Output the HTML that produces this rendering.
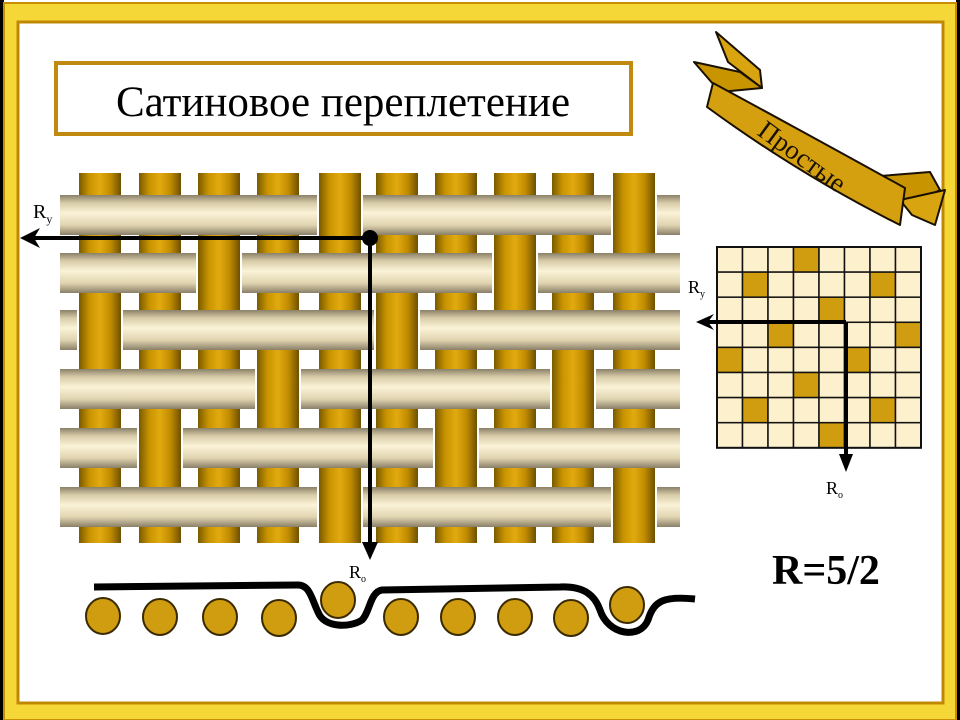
<!DOCTYPE html>
<html><head><meta charset="utf-8"><style>
html,body{margin:0;padding:0;background:#fff;}
svg{display:block;}
</style></head><body>
<svg width="960" height="720" viewBox="0 0 960 720" xmlns="http://www.w3.org/2000/svg">
<defs>
<linearGradient id="warp" x1="0" x2="1" y1="0" y2="0">
<stop offset="0" stop-color="#7a5a00"/><stop offset="0.25" stop-color="#c89400"/><stop offset="0.5" stop-color="#e2aa10"/><stop offset="0.75" stop-color="#c08c00"/><stop offset="1" stop-color="#6e5000"/>
</linearGradient>
<linearGradient id="weft" x1="0" x2="0" y1="0" y2="1">
<stop offset="0" stop-color="#8a8068"/><stop offset="0.2" stop-color="#d8cca8"/><stop offset="0.45" stop-color="#fbf3d8"/><stop offset="0.75" stop-color="#e0d4b0"/><stop offset="1" stop-color="#8a8068"/>
</linearGradient>
</defs>
<rect width="960" height="720" fill="#fff"/>
<rect x="0" y="0" width="4" height="720" fill="#000"/>
<rect x="956" y="0" width="4" height="720" fill="#000"/>
<rect x="4" y="3" width="952" height="717" fill="#f5d838"/>
<rect x="4" y="3" width="952" height="717" fill="none" stroke="#c89000" stroke-width="2"/>
<rect x="18" y="22" width="925" height="681" fill="#fff" stroke="#c08800" stroke-width="3"/>
<rect x="56" y="63" width="575" height="71" fill="#fff" stroke="#c08a10" stroke-width="4"/>
<text x="343" y="116" text-anchor="middle" font-family="Liberation Serif, serif" font-size="43" fill="#000">Сатиновое переплетение</text>
<g id="weave"></g>
<g stroke="#000" stroke-width="4" fill="none">
<line x1="30" y1="238" x2="370" y2="238"/>
<line x1="370" y1="238" x2="370" y2="548"/>
</g>
<polygon points="20,238 40,228 34,238 40,248" fill="#000"/>
<polygon points="370,560 362,542 378,542" fill="#000"/>
<circle cx="370" cy="238" r="8" fill="#000"/>
<text x="33" y="218" font-family="Liberation Serif, serif" font-size="20" fill="#000">R<tspan font-size="12" dy="5">y</tspan></text>
<text x="349" y="578" font-family="Liberation Serif, serif" font-size="18" fill="#000">R<tspan font-size="10" dy="4">o</tspan></text>
<g fill="#d09c10" stroke="#3a2a00" stroke-width="2">
<ellipse cx="103" cy="616" rx="17" ry="18"/><ellipse cx="160" cy="617" rx="17" ry="18"/><ellipse cx="220" cy="617" rx="17" ry="18"/><ellipse cx="279" cy="618" rx="17" ry="18"/>
<ellipse cx="338" cy="600" rx="17" ry="18"/><ellipse cx="401" cy="617" rx="17" ry="18"/><ellipse cx="458" cy="617" rx="17" ry="18"/><ellipse cx="515" cy="617" rx="17" ry="18"/><ellipse cx="571" cy="618" rx="17" ry="18"/><ellipse cx="627" cy="605" rx="17" ry="18"/>
</g>
<path d="M94,587 L298,585 C310,585 312,600 318,612 C324,628 350,628 362,620 C370,612 370,592 382,590 L560,587 C585,586 595,596 600,610 C608,635 640,640 648,620 C654,600 665,596 695,599" fill="none" stroke="#000" stroke-width="7"/>
<g id="grid"></g>
<g stroke="#000" stroke-width="4" fill="none">
<line x1="706" y1="322" x2="846" y2="322"/>
<line x1="846" y1="322" x2="846" y2="462"/>
</g>
<polygon points="696,322 714,314 708,322 714,330" fill="#000"/>
<polygon points="846,472 839,454 853,454" fill="#000"/>
<text x="688" y="293" font-family="Liberation Serif, serif" font-size="18" fill="#000">R<tspan font-size="10" dy="4">y</tspan></text>
<text x="826" y="494" font-family="Liberation Serif, serif" font-size="18" fill="#000">R<tspan font-size="10" dy="4">o</tspan></text>
<text x="772" y="584" font-family="Liberation Serif, serif" font-size="42" font-weight="bold" fill="#000">R=5/2</text>
<g stroke="#1a1000" stroke-width="2" stroke-linejoin="round">
<polygon points="716,32 728,62 762,88 760,70" fill="#d8a410"/>
<polygon points="694,62 740,72 762,88 720,92" fill="#c89400"/>
<polygon points="880,176 930,172 940,190 910,205" fill="#c89400"/>
<polygon points="900,200 945,190 935,225 912,215" fill="#d8a410"/>
<path d="M713,83 Q800,130 905,188 L900,225 Q800,175 707,107 Z" fill="#d4a010"/>
</g>
<text transform="translate(756,134) rotate(36)" font-family="Liberation Serif, serif" font-size="27" fill="#1a1000">Простые</text>
</svg>
<script>
(function(){
var ns="http://www.w3.org/2000/svg";
function el(t,a,p){var e=document.createElementNS(ns,t);for(var k in a)e.setAttribute(k,a[k]);p.appendChild(e);return e;}
var w=document.getElementById("weave");
var cols=[100,160,219,278,340,397,456,515,573,634];
var rows=[195,253,310,369,428,487];
var over=[[4,9],[2,7],[0,5],[3,8],[1,6],[4,9]];
cols.forEach(function(c){el("rect",{x:c-21,y:173,width:42,height:370,fill:"url(#warp)"},w);});
rows.forEach(function(r,i){el("rect",{x:60,y:r,width:620,height:40,fill:"url(#weft)"},w);});
rows.forEach(function(r,i){over[i].forEach(function(ci){var c=cols[ci];
 var top=i==0?173:rows[i-1]+40;var bot=i==5?543:rows[i+1];
 el("rect",{x:c-23,y:r,width:46,height:40,fill:"#fff"},w);
 el("rect",{x:c-21,y:top,width:42,height:bot-top,fill:"url(#warp)"},w);});});
var g=document.getElementById("grid");
var dark={"0,3":1,"1,1":1,"1,6":1,"2,4":1,"3,2":1,"3,7":1,"4,0":1,"4,5":1,"5,3":1,"6,1":1,"6,6":1,"7,4":1};
var x0=717,y0=247,cw=25.5,ch=25.1;
for(var r=0;r<8;r++)for(var c=0;c<8;c++){
 el("rect",{x:x0+c*cw,y:y0+r*ch,width:cw,height:ch,fill:dark[r+","+c]?"#d09c10":"#fdf0cc",stroke:"#111","stroke-width":1.5},g);}
el("rect",{x:x0,y:y0,width:8*cw,height:8*ch,fill:"none",stroke:"#111","stroke-width":2},g);
})();
</script>
</body></html>
